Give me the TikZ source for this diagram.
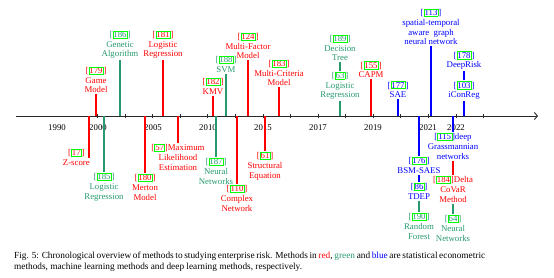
\documentclass[tikz,border=0pt]{standalone}
\usepackage{fontspec}
\setmainfont{Liberation Serif}
\usetikzlibrary{arrows.meta}
\definecolor{mred}{RGB}{255,0,0}
\definecolor{mgreen}{RGB}{38,154,108}
\definecolor{mblue}{RGB}{0,0,255}
\definecolor{lnk}{RGB}{0,255,0}
\definecolor{axisc}{RGB}{40,40,40}
\newcommand\rf[1]{[{\setlength\fboxsep{0.4pt}\setlength\fboxrule{0.5pt}\colorlet{curc}{.}\color{lnk}\fbox{\color{curc}#1}}]}
\begin{document}
\begin{tikzpicture}[x=1pt,y=-1pt,
  lab/.style={align=center,font=\fontsize{8.8}{9.7}\selectfont,inner sep=1pt},
  up/.style={lab,anchor=south},
  dn/.style={lab,anchor=north},
  R/.style={text=mred},
  G/.style={text=mgreen},
  B/.style={text=mblue},
  sR/.style={draw=mred,line width=1.2pt},
  sG/.style={draw=mgreen,line width=1.2pt},
  sB/.style={draw=mblue,line width=1.2pt},
  yr/.style={font=\fontsize{8.8}{9.7}\selectfont,inner sep=0pt},
  tickmark/.style={draw=axisc,line width=0.8pt}]
\useasboundingbox (0,0) rectangle (554,277);
% axis
\coordinate (ax0) at (16,116);
\coordinate (ax1) at (538,116);
\draw[axisc,line width=0.9pt,-{Straight Barb[length=3pt,width=7pt]}] (ax0) -- (ax1);
\foreach \i in {0,...,14}{
  \draw[tickmark] ({97.5+27.57*\i},114) -- ({97.5+27.57*\i},118);
}
% years
\node[yr] (y1990) at (57,127.5) {1990};
\node[yr] (y2000) at (98,127.5) {2000};
\node[yr] (y2005) at (153,127.5) {2005};
\node[yr] (y2010) at (208,127.5) {2010};
\node[yr] (y2015) at (263,127.5) {2015};
\node[yr] (y2017) at (318,127.5) {2017};
\node[yr] (y2019) at (373,127.5) {2019};
\node[yr] (y2021) at (428,127.5) {2021};
\node[yr] (y2022) at (456,127.5) {2022};

% ---------- upper labels ----------
\coordinate (c179) at (96,116);
\node[up,R] (n179) at (96,94) {\rf{179}\\Game\\Model};
\draw[sR] (c179) -- (n179.south);

\coordinate (c186) at (120,116);
\node[up,G] (n186) at (120,60) {\rf{186}\\Genetic\\Algorithm};
\draw[sG] (c186) -- (n186.south);

\coordinate (c181) at (163,116);
\node[up,R] (n181) at (163,60) {\rf{181}\\Logistic\\Regression};
\draw[sR] (c181) -- (n181.south);

\coordinate (c182) at (213,116);
\node[up,R] (n182) at (213,96) {\rf{182}\\KMV};
\draw[sR] (c182) -- (n182.south);

\coordinate (c188) at (226,116);
\node[up,G] (n188) at (226,74) {\rf{188}\\SVM};
\draw[sG] (c188) -- (n188.south);

\coordinate (c124) at (248,116);
\node[up,R] (n124) at (248,60) {\rf{124}\\Multi-Factor\\Model};
\draw[sR] (c124) -- (n124.south);

\coordinate (c183) at (279,116);
\node[up,R] (n183) at (279,87) {\rf{183}\\Multi-Criteria\\Model};
\draw[sR] (c183) -- (n183.south);

\coordinate (c63) at (340,116);
\node[up,G] (n63) at (340,101) {\rf{63}\\Logistic\\Regression};
\draw[sG] (c63) -- (n63.south);
\node[up,G] (n189) at (340,62) {\rf{189}\\Decision\\Tree};
\draw[sG] (n63.north) -- (n189.south);

\coordinate (c155) at (371,116);
\node[up,R] (n155) at (371,79) {\rf{155}\\CAPM};
\draw[sR] (c155) -- (n155.south);

\coordinate (c177) at (398,116);
\node[up,B] (n177) at (398,99) {\rf{177}\\SAE};
\draw[sB] (c177) -- (n177.south);

\coordinate (c113) at (431,116);
\node[up,B] (n113) at (431,46) {\rf{113}\\spatial-temporal\\aware\ \ graph\\neural network};
\draw[sB] (c113) -- (n113.south);

\coordinate (c103) at (464,116);
\node[up,B] (n103) at (464,101) {\rf{103}\\iConReg};
\draw[sB] (c103) -- (n103.south);
\node[up,B] (n178) at (464,71) {\rf{178}\\DeepRisk};
\draw[sB] (n103.north) -- (n178.south);

% ---------- lower labels ----------
\coordinate (c17) at (89,116);
\node[lab,R,anchor=east] (n17) at (91,157.5) {\rf{17}\\Z-score};
\draw[sR] (c17) -- (c17 |- n17.east);

\coordinate (c185) at (104,116);
\node[dn,G] (n185) at (104,172) {\rf{185}\\Logistic\\Regression};
\draw[sG] (c185) -- (n185.north);

\coordinate (c180) at (145,116);
\node[dn,R] (n180) at (145,173) {\rf{180}\\Merton\\Model};
\draw[sR] (c180) -- (n180.north);

\coordinate (c57) at (178,116);
\node[dn,R] (n57) at (178,143) {\rf{57}Maximum\\Likelihood\\Estimation};
\draw[sR] (c57) -- (n57.north);

\coordinate (c187) at (216,116);
\node[dn,G] (n187) at (216,157) {\rf{187}\\Neural\\Networks};
\draw[sG] (c187) -- (n187.north);

\coordinate (c110) at (237,116);
\node[dn,R] (n110) at (237,184) {\rf{110}\\Complex\\Network};
\draw[sR] (c110) -- (n110.north);

\coordinate (c61) at (265,116);
\node[dn,R] (n61) at (265,151) {\rf{61}\\Structural\\Equation};
\draw[sR] (c61) -- (n61.north);

\coordinate (c176) at (419,116);
\node[dn,B] (n176) at (419,156) {\rf{176}\\BSM-SAES};
\draw[sB] (c176) -- (n176.north);
\node[dn,B] (n86) at (419,182) {\rf{86}\\TDEP};
\draw[sB] (n176.south) -- (n86.north);
\node[dn,G] (n190) at (419,212) {\rf{190}\\Random\\Forest};
\draw[sG] (n86.south) -- (n190.north);

\coordinate (c115) at (453,116);
\node[dn,B] (n115) at (453,132) {\rf{115}deep\\Grassmannian\\networks};
\draw[sB] (c115) -- (n115.north);
\node[dn,R] (n184) at (453,175) {\rf{184}Delta\\CoVaR\\Method};
\draw[sR] (n115.south) -- (n184.north);
\node[dn,G] (n64) at (453,214) {\rf{64}\\Neural\\Networks};
\draw[sG] (n184.south) -- (n64.north);

% caption
\node[anchor=north west,inner sep=0pt,align=left,font=\fontsize{9.3}{10.3}\selectfont] (cap) at (14,252)
  {\makebox[471pt][s]{Fig. 5: Chronological overview of methods to studying enterprise risk. Methods in \textcolor{mred}{red}, \textcolor{mgreen}{green} and \textcolor{mblue}{blue} are statistical econometric}\\
   methods, machine learning methods and deep learning methods, respectively.};
\end{tikzpicture}
\end{document}
